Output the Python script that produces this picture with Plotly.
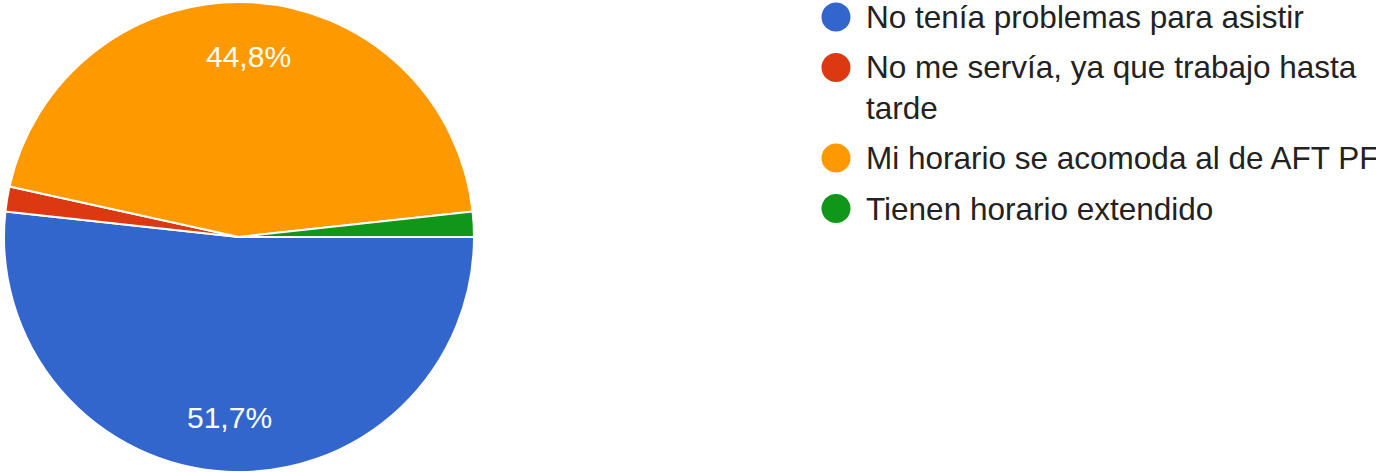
import math
import plotly.graph_objects as go

labels = ["No tenía problemas para asistir",
          "No me servía, ya que trabajo hasta<br>tarde",
          "Mi horario se acomoda al de AFT PF",
          "Tienen horario extendido"]
values = [30, 1, 26, 1]
colors = ["#3366cc", "#dc3912", "#ff9900", "#109618"]
show_label = [True, False, True, False]

W, H = 1376, 472
FONT = "Arial, Liberation Sans, sans-serif"
# pie placement (pixels)
CX, CY, R = 239, 237, 235
ROT = 90  # first slice starts at 3 o'clock, clockwise

fig = go.Figure()
fig.add_trace(go.Pie(
    labels=labels, values=values, sort=False, direction="clockwise", rotation=ROT,
    marker=dict(colors=colors, line=dict(color="white", width=2)),
    textinfo="none", showlegend=False, hoverinfo="label+percent",
    domain=dict(x=[(CX - R) / W, (CX + R) / W], y=[1 - (CY + R) / H, 1 - (CY - R) / H]),
))

# percentage labels inside big slices, placed along each slice's mid angle
total = sum(values)
cum = 0
for v, show in zip(values, show_label):
    mid = (cum + v / 2) / total
    cum += v
    if not show:
        continue
    ang = math.radians(ROT + 360 * mid)  # angle from 12 o'clock, clockwise
    px = CX + 0.77 * R * math.sin(ang)
    py = CY - 0.77 * R * math.cos(ang)
    pct = f"{100 * v / total:.1f}".replace(".", ",") + "%"
    fig.add_annotation(x=px / W, y=1 - py / H, xref="paper", yref="paper",
                       text=pct, showarrow=False, xanchor="center", yanchor="middle",
                       font=dict(family=FONT, size=30, color="white"))

# legend (circle markers)
LX, LTX, LY0, STEP, LINE = 836, 866, 17, 50.5, 40
extra = 0
for i, (lab, col) in enumerate(zip(labels, colors)):
    n = lab.count("<br>") + 1
    yc = LY0 + i * STEP + extra * LINE
    fig.add_shape(type="circle", xref="paper", yref="paper",
                  x0=(LX - 14.5) / W, x1=(LX + 14.5) / W,
                  y0=1 - (yc + 14.5) / H, y1=1 - (yc - 14.5) / H,
                  fillcolor=col, line=dict(width=0))
    ymid = yc + (n - 1) * LINE / 2
    fig.add_annotation(x=(LTX - 2) / W, y=1 - ymid / H, xref="paper", yref="paper",
                       text=lab, showarrow=False, xanchor="left", yanchor="middle",
                       align="left", font=dict(family=FONT, size=31.5, color="#222222"))
    extra += n - 1

fig.update_layout(
    width=W, height=H, margin=dict(l=0, r=0, t=0, b=0),
    paper_bgcolor="white", plot_bgcolor="white",
    separators=",.", showlegend=False,
    xaxis=dict(visible=False), yaxis=dict(visible=False),
)
fig.write_html("out.html", config={"displayModeBar": False},
               post_script="document.body.style.margin='0';")
